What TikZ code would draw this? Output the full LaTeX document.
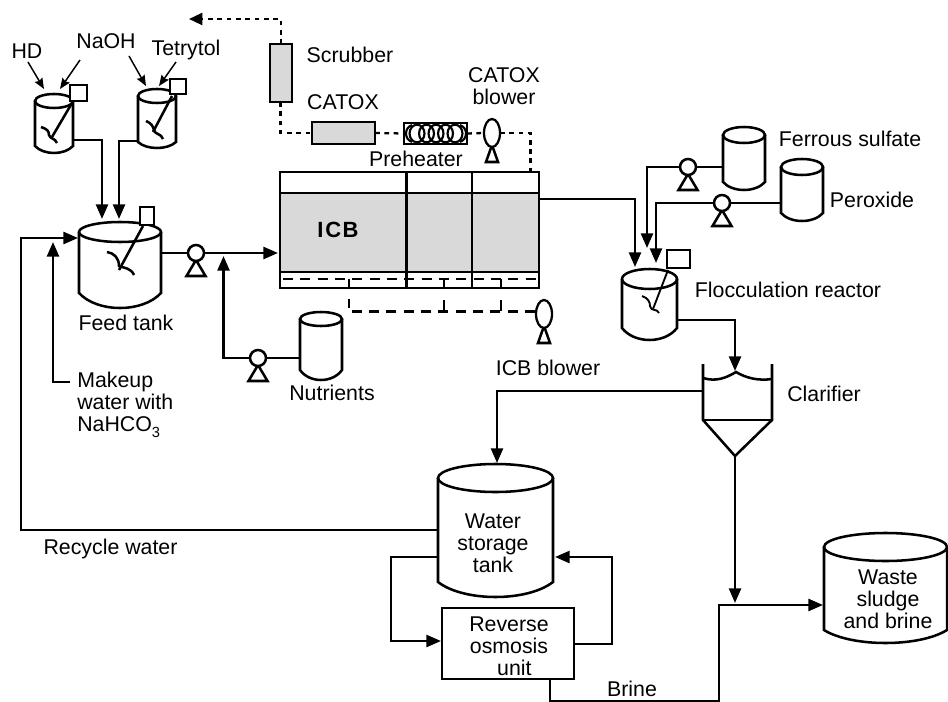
\documentclass[tikz,border=0pt]{standalone}
\usepackage{fontspec}
\setmainfont{Liberation Sans}
\usetikzlibrary{arrows.meta,shapes.geometric,calc}
\tikzset{
  pipe/.style={line width=1.9pt,line join=miter},
  arr/.style={pipe,-{Triangle[length=11pt,width=9pt]}},
  airdash/.style={line width=1.7pt,dash pattern=on 7.5pt off 5.5pt},
  gasdash/.style={line width=1.7pt,dash pattern=on 3.6pt off 3.4pt},
  outl/.style={line width=1.9pt},
  lbl/.style={font=\fontsize{16}{16.6}\selectfont,inner sep=0pt,align=center},
  boxn/.style={draw,line width=1.9pt,inner sep=0pt,outer sep=0pt},
  tankbox/.style={inner sep=0pt,outer sep=0pt},
  pumpc/.style={circle,draw,fill=white,line width=1.9pt,minimum size=12pt,inner sep=0pt,outer sep=0pt},
  blow/.style={ellipse,draw,fill=white,line width=1.7pt,minimum width=12pt,minimum height=21pt,inner sep=0pt,outer sep=0pt},
}
\definecolor{greyfill}{gray}{0.85}
% name x1 y1 x2 y2 style
\newcommand\bx[6]{\node[boxn,#6,minimum width={(#4-#2)*0.75pt},minimum height={(#5-#3)*0.75pt}] (#1) at ({(#2+#4)/2},{(#3+#5)/2}) {};}
% name cx top rx ry bot bulge
\newcommand\tank[7]{%
  \node[tankbox,minimum width={2*#4*0.75pt},minimum height={(#7-#3+#5)*0.75pt}] (#1) at (#2,{(#7+#3-#5)/2}) {};
  \draw[outl] ({#2-#4},#3) -- ({#2-#4},#6) .. controls ({#2-0.55*#4},{#6+(#7-#6)/0.75}) and ({#2+0.55*#4},{#6+(#7-#6)/0.75}) .. ({#2+#4},#6) -- ({#2+#4},#3);
  \draw[outl] (#2,#3) ellipse [x radius={#4*0.75pt},y radius={#5*0.75pt}];
}
\newcommand\pump[3]{%
  \draw[outl] (#2,{#3+7}) -- ({#2-9.5},{#3+23}) -- ({#2+9.5},{#3+23}) -- cycle;
  \node[pumpc] (#1) at (#2,#3) {};
}
\newcommand\blower[3]{%
  \draw[outl] (#2,{#3+12}) -- ({#2-6},{#3+29}) -- ({#2+6},{#3+29}) -- cycle;
  \node[blow] (#1) at (#2,#3) {};
}
\begin{document}
\begin{tikzpicture}[x=0.75pt,y=-0.75pt]
\useasboundingbox (0,0) rectangle (948,702);

% ---- HD / Tetrytol mix tanks
\tank{ht}{54}{101}{19}{7}{146}{153}
\bx{hm}{70}{85}{87}{101}{fill=white}
\draw[outl] (hm.south west) ++(2,2) -- (52,137);
\draw[outl] (41,127) .. controls (47,129) and (49,131) .. (49,135) .. controls (50,139) and (55,138) .. (57,143);
\tank{tt}{157}{96}{19}{7}{142}{148}
\bx{tm}{170}{79}{186}{94}{fill=white}
\draw[outl] (tm.south west) ++(2,2) -- (153,132);
\draw[outl] (146,121) .. controls (151,123) and (153,126) .. (154,130) .. controls (155,135) and (161,133) .. (163,139);

\node[lbl] (lhd) at (27,51) {HD};
\node[lbl] (lnaoh) at (106,41) {NaOH};
\node[lbl] (ltet) at (186,50) {Tetrytol};
\coordinate (a1s) at (28,62); \coordinate (a1e) at (44,89);
\coordinate (a2s) at (80,60); \coordinate (a2e) at (60,89);
\coordinate (a3s) at (129,56); \coordinate (a3e) at (146,86);
\coordinate (a4s) at (176,62); \coordinate (a4e) at (159,86);
\foreach \p in {1,2,3,4} \draw[line width=1.1pt,-{Stealth[length=8pt,width=6.5pt,inset=1pt]}] (a\p s) -- (a\p e);

% ---- Feed tank
\tank{ft}{120}{232}{41}{10}{293}{308}
\bx{fm}{140}{207}{154}{225}{fill=white}
\draw[outl] (143,226) -- (119,270);
\draw[outl] (107,252) .. controls (114,253) and (119,258) .. (119,266) .. controls (124,268) and (131,268) .. (134,275);
\node[lbl] (lft) at (126,323) {Feed tank};
\coordinate (fi1) at (102,219); \coordinate (fi2) at (119,219);
\draw[arr] (ht.east |- 0,140) -| (fi1);
\draw[arr] (tt.west |- 0,141) -| (fi2);

% ---- Pumps into ICB
\pump{p1}{196}{253}
\pump{p2}{258}{358}
\tank{nt}{321}{319}{21}{7}{370}{380}
\node[lbl] (lnut) at (332,393) {Nutrients};
\draw[pipe] (ft.east |- p1) -- (p1.west);
\fill[greyfill] (280,193) rectangle (539,272);
\bx{icb}{280}{172}{539}{288}{}
\draw[outl] (280,193) -- (539,193) (280,272) -- (539,272) (406.5,172) -- (406.5,288) (472,172) -- (472,288);
\node[lbl,font=\fontsize{16.5}{16.5}\selectfont\bfseries] (licb) at (338,230) {I\kern1.5pt C\kern1pt B};
\coordinate (icbin) at (278,253);
\draw[arr] (p1.east) -- (icbin);
\coordinate (nj) at (223.5,256);
\draw[arr] (p2.west) -| (nj);
\draw[pipe] (p2.east) -- (nt.west |- p2);

% ---- Makeup and recycle
\node[lbl,align=left,anchor=north west] (lmk) at (77,372) {Makeup\\water with\\NaHCO\raisebox{-4pt}{\fontsize{11}{11}\selectfont 3}};
\coordinate (mj) at (53,242);
\draw[arr] (lmk.west |- 0,382) ++(-7,0) -| (mj);
\coordinate (fi3) at (78,238);
\node[lbl] (lrec) at (110.5,549) {Recycle water};

% ---- ICB air
\coordinate (d1) at (349,279); \coordinate (d2) at (444,279); \coordinate (d3) at (501,279);
\draw[airdash] (283,279) -- (536,279);
\draw[line width=1.7pt] (d1) -- (349,288) (d2) -- (444,288) (d3) -- (501,288);
\draw[line width=1.7pt] (349,299) -- (349,308) (444,300) -- (444,311) (501,300) -- (501,311);
\blower{b2}{544}{314}
\coordinate (bl) at (535,311.5);
\draw[airdash] (bl) -- (349,311.5);
\node[lbl] (lb2) at (548,368) {ICB blower};

% ---- Off-gas train
\bx{scr}{270}{44}{292}{102}{fill=greyfill}
\bx{cat}{312}{122}{375}{144}{fill=greyfill}
\bx{pre}{404}{123}{467}{144}{}
\foreach \c in {417,426.5,436,445.5,455} \draw[line width=1.6pt] (\c,133.5) ellipse [x radius=5.6pt,y radius=6.6pt];
\draw[line width=1.6pt] (412,125) .. controls (404,128) and (404,139) .. (412,142) (460,125) .. controls (468,128) and (468,139) .. (460,142);
\blower{b1}{492}{133}
\coordinate (out) at (189,19);
\draw[gasdash,-{Triangle[length=10pt,width=9pt]}] (281,44) |- (out);
\draw[gasdash] (280.5,102) |- (cat.west);
\draw[gasdash] (cat.east) -- (pre.west);
\draw[gasdash] (pre.east) -- (b1.west);
\draw[gasdash] (b1.east) -| (530.5,172);
\node[lbl] (lscr) at (350,55) {Scrubber};
\node[lbl] (lcat) at (343,102) {CATOX};
\node[lbl] (lpre) at (416,159) {Preheater};
\node[lbl] (lb1) at (504,86) {CATOX\\blower};

% ---- Flocculation
\tank{fl}{649.5}{279}{27.5}{10}{328}{340}
\bx{flm}{667}{250}{690}{268}{fill=white}
\draw[line width=1.4pt] (668,270) -- (653,309);
\draw[line width=1.4pt] (642,296) .. controls (648,298) and (650,302) .. (650,306) .. controls (651,312) and (657,308) .. (659,313);
\coordinate (fli1) at (635,267); \coordinate (fli2) at (647,248); \coordinate (fli3) at (656,263);
\draw[arr] (icb.east |- 0,199) -| (fli1);
\pump{p3}{688}{167}
\pump{p4}{722}{203}
\tank{fs}{744}{135}{21}{8}{182}{190}
\tank{pe}{802}{167}{21}{8}{213}{221}
\draw[arr] (p3.west) -| (fli2);
\draw[pipe] (p3.east) -- (fs.west |- p3);
\draw[arr] (p4.west) -| (fli3);
\draw[pipe] (p4.east) -- (pe.west |- p4);
\node[lbl] (lfs) at (850,139) {Ferrous sulfate};
\node[lbl] (lpe) at (872,200) {Peroxide};
\node[lbl] (lfl) at (788,290) {Flocculation reactor};

% ---- Clarifier
\draw[outl] (703,364) -- (703,420) -- (735,456) -- (772,420) -- (772,364);
\draw[outl] (703,420) -- (772,420);
\draw[outl] (703,378) .. controls (716,382) and (726,378) .. (736,372) .. controls (746,378) and (758,381) .. (772,379);
\coordinate (cla) at (735,456);
\coordinate (clin) at (735,371);
\draw[arr] (fl.east |- 0,320) -| (clin);
\node[lbl] (lcl) at (824,394) {Clarifier};

% ---- Water storage
\tank{ws}{495.5}{478}{57.5}{14}{582}{597}
\node[lbl] (lws) at (493,543) {Water\\storage\\tank};
\coordinate (wsin) at (497,463);
\draw[arr] (703,391) -| (wsin);
\bx{ro}{442}{608}{574}{679}{}
\node[lbl] (lro) at (509,646) {Reverse\\osmosis\\\hspace*{8pt}unit};
\coordinate (wsr) at (555,557);
\coordinate (roin) at (441,641);
\draw[arr] (ws.west |- 0,557) -- (391,557) |- (roin);
\draw[arr] (ro.east |- 0,644) -- (612,644) |- (wsr);
\draw[arr] (ws.west |- 0,530) -- (21,530) |- (fi3);

% ---- Waste
\tank{wa}{885.5}{547}{61.5}{14}{630}{643}
\node[lbl] (lwa) at (888,599) {Waste\\sludge\\and brine};
\coordinate (waj) at (735,603);
\draw[arr] (cla) -- (waj);
\coordinate (wai) at (823,605);
\draw[arr] (ro.south -| 550,0) -- (550,701) -- (719,701) |- (wai);
\node[lbl] (lbr) at (632,689) {Brine};
\end{tikzpicture}
\end{document}
